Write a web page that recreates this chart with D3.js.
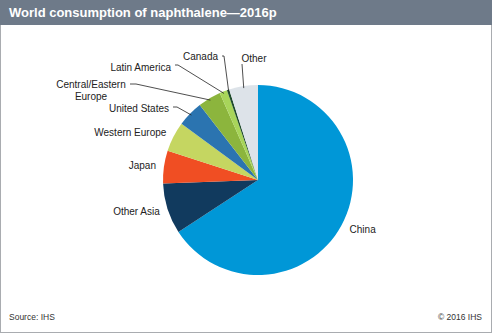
<!DOCTYPE html>
<html>
<head>
<meta charset="utf-8">
<script src="https://cdn.jsdelivr.net/npm/d3@7"></script>
<style>
  body { margin: 0; background: #fff; }
  svg { display: block; font-family: "Liberation Sans", Arial, sans-serif; }
</style>
</head>
<body>
<script>
var width = 492;
var height = 333;

// share of world consumption, 2016p (%), clockwise from 12 o'clock
var regions = ["China", "Other Asia", "Japan", "Western Europe", "United States",
  "Central/Eastern Europe", "Latin America", "Canada", "Other"];
var shares = [65.8, 8.6, 5.6, 5.1, 4.4, 3.9, 1.3, 0.4, 4.9];
var colors = ["#0097d7", "#113a5e", "#f04e23", "#c5d661", "#2b74b0",
  "#8cb53d", "#a8d55a", "#1f4b2c", "#dde3e9"];

var title = "World consumption of naphthalene\u20142016p";
var source = "Source: IHS";
var copyright = "\u00a9 2016 IHS";

var cx = 258, cy = 180, radius = 95;

// leader-line labels: text anchor position and elbow point
var leaders = {
  "United States": { tx: 169, ty: 108, ex: 177, ey: 107 },
  "Central/Eastern Europe": { tx: 91, ty: 84, ex: 136, ey: 84, lines: ["Central/Eastern", "Europe"], anchor: "middle", sx: 130 },
  "Latin America": { tx: 171, ty: 67, ex: 178, ey: 65 },
  "Canada": { tx: 218, ty: 56, ex: 224, ey: 56 },
  "Other": { tx: 254, ty: 58, ex: 242, ey: 64, anchor: "middle", up: true }
};

var svg = d3.select("body").append("svg")
  .attr("width", width)
  .attr("height", height);

svg.append("rect")
  .attr("x", 0.5).attr("y", 0.5)
  .attr("width", width - 1).attr("height", height - 1)
  .style("fill", "#fff")
  .style("stroke", "#a9acb0");

svg.append("rect")
  .attr("x", 0).attr("y", 0)
  .attr("width", width).attr("height", 25)
  .style("fill", "#6e7a89");

svg.append("text")
  .attr("x", 9).attr("y", 17)
  .style("font-size", "13px")
  .style("font-weight", "bold")
  .style("fill", "#fff")
  .text(title);

var data = regions.map(function(r, i) {
  return { name: r, value: shares[i], color: colors[i] };
});

var pie = d3.pie()
  .sort(null)
  .value(function(d) { return d.value; });

var arc = d3.arc().innerRadius(0).outerRadius(radius);
var labelArc = d3.arc().innerRadius(radius + 8).outerRadius(radius + 8);
var edgeArc = d3.arc().innerRadius(radius - 2).outerRadius(radius - 2);

var arcs = pie(data);

var g = svg.append("g").attr("transform", "translate(" + cx + "," + cy + ")");

g.selectAll("path")
  .data(arcs)
  .enter().append("path")
  .attr("d", arc)
  .style("fill", function(d) { return d.data.color; });

// direct labels for large slices
var labels = svg.append("g").style("font-size", "10px").style("fill", "#222");

arcs.forEach(function(d) {
  var name = d.data.name;
  var mid = (d.startAngle + d.endAngle) / 2;
  var lay = leaders[name];
  if (!lay) {
    var c = labelArc.centroid(d);
    var right = Math.sin(mid) > 0;
    labels.append("text")
      .attr("x", cx + c[0] + (right ? 1 : 0))
      .attr("y", cy + c[1] + 3.5)
      .attr("text-anchor", right ? "start" : "end")
      .text(name);
    return;
  }
  var e = edgeArc.centroid(d);
  var px = cx + e[0], py = cy + e[1];
  var pts;
  if (lay.up) {
    pts = [[px, py], [lay.ex, lay.ey]];
  } else {
    pts = [[px, py], [lay.ex, lay.ey], [lay.sx || lay.tx + 4, lay.ey]];
  }
  labels.append("path")
    .attr("d", d3.line()(pts))
    .style("fill", "none")
    .style("stroke", "#222")
    .style("stroke-width", 0.8);
  var lines = lay.lines || [name];
  var t = labels.append("text")
    .attr("text-anchor", lay.anchor || "end");
  lines.forEach(function(l, i) {
    t.append("tspan")
      .attr("x", lay.tx)
      .attr("y", lay.ty + 3.5 + i * 12)
      .text(l);
  });
});

svg.append("text")
  .attr("x", 9).attr("y", 320)
  .style("font-size", "8.5px")
  .style("fill", "#333")
  .text(source);

svg.append("text")
  .attr("x", 482).attr("y", 320)
  .attr("text-anchor", "end")
  .style("font-size", "8.5px")
  .style("fill", "#333")
  .text(copyright);
</script>
</body>
</html>
